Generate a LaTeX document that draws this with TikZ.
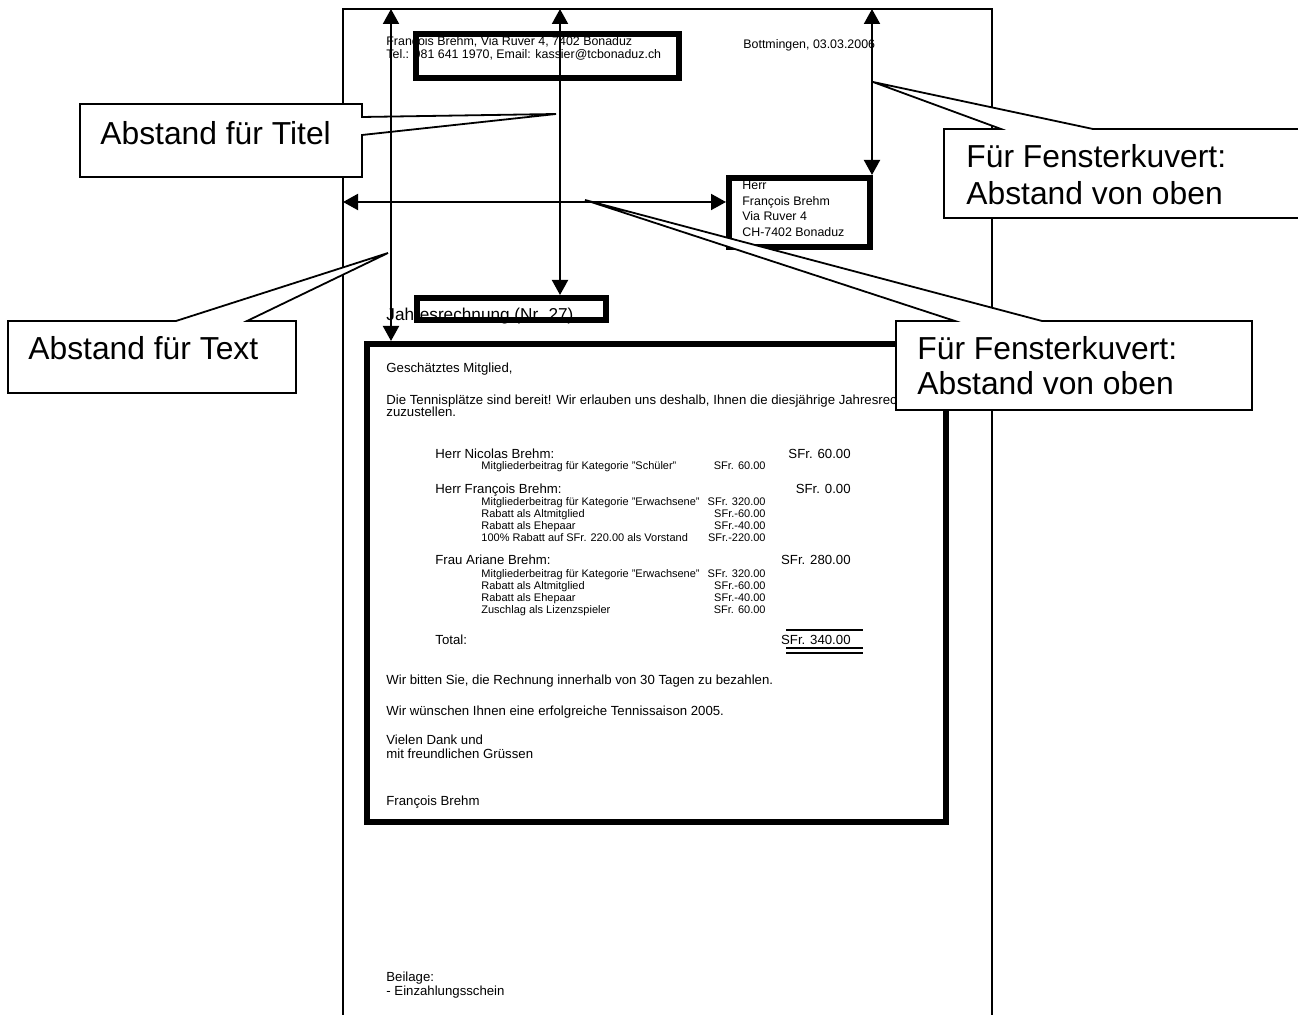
\documentclass[tikz,border=0pt]{standalone}
\usepackage{fontspec}
\setmainfont{Liberation Sans}
\usetikzlibrary{calc, arrows.meta}
\newcommand{\ltrfont}{\fontsize{6.6pt}{7.5pt}\selectfont}
\newcommand{\itemfont}{\fontsize{5.5pt}{6.5pt}\selectfont}
\newcommand{\headfont}{\fontsize{6.2pt}{7pt}\selectfont}
\newcommand{\titlefont}{\fontsize{8.6pt}{10pt}\selectfont}
\newcommand{\callfont}{\fontsize{15.9pt}{18.5pt}\selectfont}
\tikzset{
  pageline/.style={line width=1pt},
  thickbox/.style={draw, line width=3pt, inner sep=0pt},
  dimarrow/.style={line width=1pt, {Triangle[length=7.5pt,width=8pt]}-{Triangle[length=7.5pt,width=8pt]}},
  callout/.style={draw, fill=white, line width=0.9pt, line join=miter},
  ltr/.style={anchor=base west, inner sep=0pt, font=\ltrfont},
  ltritem/.style={anchor=base west, inner sep=0pt, font=\itemfont},
  calltext/.style={anchor=base west, inner sep=0pt, font=\callfont},
}

\begin{document}
\begin{tikzpicture}[x=0.5pt, y=-0.5pt]
  \path[use as bounding box] (0,0) rectangle (1298,1015);
  \clip (0,0) rectangle (1298,1015);
  % page outline
  \coordinate (pgbl) at (343,1025);
  \coordinate (pgtl) at (343,9);
  \coordinate (pgtr) at (992,9);
  \coordinate (pgbr) at (992,1025);
  \draw[pageline] (pgbl) -- (pgtl) -- (pgtr) -- (pgbr);

  % letter head
  \node[ltr, font=\headfont] (sender) at (386,46) {François Brehm, Via Ruver 4, 7402 Bonaduz};
  \node[ltr, font=\headfont] (phone) at (386,59) {Tel.: 081 641 1970, Email: kassier@tcbonaduz.ch};
  \node[ltr, font=\headfont] (place) at (743,49) {Bottmingen, 03.03.2006};
  \node[thickbox, minimum width=131.5pt, minimum height=22pt] (hdrbox) at (547.5,56) {};

  % address for the window
  \node[ltr, font=\headfont] (adr1) at (742,190) {Herr};
  \node[ltr, font=\headfont] (adr2) at (742,206) {François Brehm};
  \node[ltr, font=\headfont] (adr3) at (742,221) {Via Ruver 4};
  \node[ltr, font=\headfont] (adr4) at (742,237) {CH-7402 Bonaduz};
  \node[thickbox, minimum width=70.5pt, minimum height=34.5pt] (adrbox) at (799.5,212.5) {};

  % title
  \node[ltr, font=\titlefont] (title) at (386,321) {Jahresrechnung (Nr. 27)};
  \node[thickbox, minimum width=94.5pt, minimum height=11pt] (ttlbox) at (511.5,309) {};

  % letter body
  \node[thickbox, minimum width=289.5pt, minimum height=239pt] (bodybox) at (656.5,583) {};
  \node[ltr] (salut) at (386,373) {Geschätztes Mitglied,};
  \node[ltr] (intro) at (386,405) {Die Tennisplätze sind bereit! Wir erlauben uns deshalb, Ihnen die diesjährige Jahresrechnung};
  \node[ltr] (intro2) at (386,417) {zuzustellen.};
  \foreach \yy/\who/\amt [count=\i] in {459/{Herr Nicolas Brehm:}/{SFr. 60.00},
      494/{Herr François Brehm:}/{SFr. 0.00}, 565/{Frau Ariane Brehm:}/{SFr. 280.00},
      645/{Total:}/{SFr. 340.00}} {
    \node[ltr] (person\i) at (435,\yy) {\who};
    \node[ltr, anchor=base east] (pamt\i) at (851,\yy) {\amt};
  }
  \foreach \yy/\txt/\amt [count=\i] in {470/{Mitgliederbeitrag für Kategorie "Schüler"}/{SFr. 60.00},
      506/{Mitgliederbeitrag für Kategorie "Erwachsene"}/{SFr. 320.00},
      518/{Rabatt als Altmitglied}/{SFr.-60.00}, 530/{Rabatt als Ehepaar}/{SFr.-40.00},
      542/{100\% Rabatt auf SFr. 220.00 als Vorstand}/{SFr.-220.00},
      578/{Mitgliederbeitrag für Kategorie "Erwachsene"}/{SFr. 320.00},
      590/{Rabatt als Altmitglied}/{SFr.-60.00}, 602/{Rabatt als Ehepaar}/{SFr.-40.00},
      614/{Zuschlag als Lizenzspieler}/{SFr. 60.00}} {
    \node[ltritem] (item\i) at (481,\yy) {\txt};
    \node[ltritem, anchor=base east] (iamt\i) at (766,\yy) {\amt};
  }
  \draw[line width=0.8pt] (786,630) -- (863,630);
  \draw[line width=0.6pt] (786,648) -- (863,648) (786,653) -- (863,653);
  \node[ltr] (pay) at (386,685) {Wir bitten Sie, die Rechnung innerhalb von 30 Tagen zu bezahlen.};
  \node[ltr] (wish) at (386,716) {Wir wünschen Ihnen eine erfolgreiche Tennissaison 2005.};
  \node[ltr] (thanks) at (386,745) {Vielen Dank und};
  \node[ltr] (greet) at (386,759) {mit freundlichen Grüssen};
  \node[ltr] (sign) at (386,806) {François Brehm};
  \node[ltr] (encl) at (386,982) {Beilage:};
  \node[ltr] (encl2) at (386,996) {- Einzahlungsschein};

  % callouts
  \draw[callout] (80,104) -- (362,104) -- (362,117) -- (556,114) -- (362,135)
    -- (362,177) -- (80,177) -- cycle;
  \node[calltext] (cTitel) at (100,145) {Abstand für Titel};
  \draw[callout] (8,321) -- (176,321) -- (388,253) -- (247,321) -- (296,321)
    -- (296,393) -- (8,393) -- cycle;
  \node[calltext] (cText) at (28,360) {Abstand für Text};
  \draw[callout] (944,129) -- (1001,129) -- (873,82) -- (1093,129) -- (1320,129)
    -- (1320,218) -- (944,218) -- cycle;
  \node[calltext] (cKuvA1) at (966,168) {Für Fensterkuvert:};
  \node[calltext] (cKuvA2) at (966,205) {Abstand von oben};
  \draw[callout] (896,321) -- (955,321) -- (585,200) -- (1042,321) -- (1252,321)
    -- (1252,410) -- (896,410) -- cycle;
  \node[calltext] (cKuvB1) at (917,360) {Für Fensterkuvert:};
  \node[calltext] (cKuvB2) at (917,395) {Abstand von oben};

  % distance arrows
  \coordinate (textTop) at (391,9);
  \coordinate (titleTop) at (560,9);
  \coordinate (adrTop) at (872,9);
  \coordinate (adrLeft) at (343,202);
  \draw[dimarrow] (textTop) -- (bodybox.north -| textTop);
  \draw[dimarrow] (titleTop) -- (ttlbox.north -| titleTop);
  \draw[dimarrow] (adrTop) -- (adrbox.north -| adrTop);
  \draw[dimarrow] (adrLeft) -- (adrbox.west |- adrLeft);
\end{tikzpicture}
\end{document}
